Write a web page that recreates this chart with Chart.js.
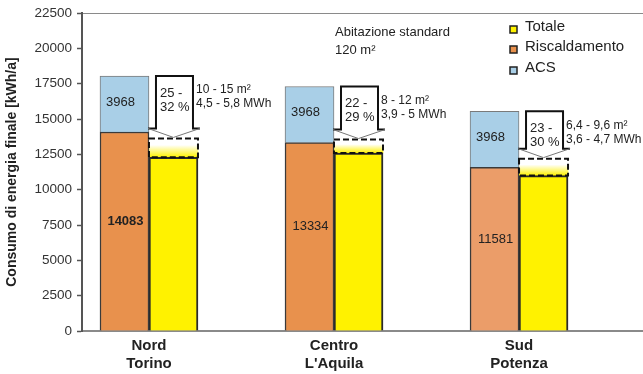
<!DOCTYPE html>
<html>
<head>
<meta charset="utf-8">
<script src="https://cdn.jsdelivr.net/npm/chart.js@4.4.1/dist/chart.umd.min.js"></script>
<style>
  body { margin: 0; background: #fff; }
  #wrap { width: 643px; height: 374px; }
</style>
</head>
<body>
<div id="wrap"><canvas id="consumoChart"></canvas></div>
<script>
// zone climatiche
const zone = [["Nord", "Torino"], ["Centro", "L'Aquila"], ["Sud", "Potenza"]];
// consumi [kWh/a]
const riscaldamento = [14083, 13334, 11581];
const acs = [3968, 3968, 3968];
const totale = [12300, 12600, 11000];          // barra gialla piena
const fasciaRisparmio = [1330, 950, 1200];     // fascia tratteggiata sopra il totale
// testi delle frecce
const risparmioPct = [["25 -", "32 %"], ["22 -", "29 %"], ["23 -", "30 %"]];
const risparmioNote = [
  ["10 - 15 m²", "4,5 - 5,8 MWh"],
  ["8 - 12 m²", "3,9 - 5 MWh"],
  ["6,4 - 9,6 m²", "3,6 - 4,7 MWh"],
];
const yMax = 22500;
const yStep = 2500;

const ORANGE = ["#e8914d", "#e8914d", "#eb9d69"];
const BLUE = "#a9cfe7";
const YELLOW = "#fff200";

Chart.defaults.font.family = "'Liberation Sans', Arial, sans-serif";

const pts = (arr) => arr.map((v, i) => ({ x: i, y: v }));

// bordo tratteggiato, frecce ed etichette
const annotazioni = {
  id: "annotazioni",
  afterDatasetsDraw(chart) {
    const ctx = chart.ctx;
    const mRisc = chart.getDatasetMeta(0).data;
    const mAcs = chart.getDatasetMeta(1).data;
    const mFascia = chart.getDatasetMeta(3).data;
    ctx.save();
    mFascia.forEach((el, i) => {
      const l = el.x - el.width / 2, r = el.x + el.width / 2;
      // fascia tratteggiata
      ctx.setLineDash([6, 3]);
      ctx.lineWidth = 2;
      ctx.strokeStyle = "#111";
      ctx.strokeRect(l, el.y, r - l, el.base - el.y);
      ctx.setLineDash([]);

      // freccia
      const top = mAcs[i].y;
      const bodyL = l + 7, bodyR = r - 5;
      const headL = l - 1, headR = r + 2;
      const tip = el.y - 1, headBase = tip - 9;
      ctx.beginPath();
      ctx.moveTo(bodyL, top);
      ctx.lineTo(bodyR, top);
      ctx.lineTo(bodyR, headBase);
      ctx.lineTo(headR, headBase);
      ctx.lineTo(el.x, tip);
      ctx.lineTo(headL, headBase);
      ctx.lineTo(bodyL, headBase);
      ctx.closePath();
      ctx.fillStyle = "#fff";
      ctx.fill();
      ctx.beginPath();
      ctx.moveTo(headL, headBase);
      ctx.lineTo(bodyL, headBase);
      ctx.lineTo(bodyL, top);
      ctx.lineTo(bodyR, top);
      ctx.lineTo(bodyR, headBase);
      ctx.lineTo(headR, headBase);
      ctx.lineWidth = 2;
      ctx.strokeStyle = "#111";
      ctx.stroke();
      ctx.beginPath();
      ctx.moveTo(headL, headBase);
      ctx.lineTo(el.x, tip);
      ctx.lineTo(headR, headBase);
      ctx.lineWidth = 1;
      ctx.strokeStyle = "#777";
      ctx.stroke();

      ctx.fillStyle = "#222";
      ctx.textBaseline = "middle";
      ctx.textAlign = "left";
      ctx.font = "13px 'Liberation Sans', Arial, sans-serif";
      ctx.fillText(risparmioPct[i][0], bodyL + 4, top + 17);
      ctx.fillText(risparmioPct[i][1], bodyL + 4, top + 31);
      ctx.font = "12px 'Liberation Sans', Arial, sans-serif";
      ctx.fillText(risparmioNote[i][0], bodyR + 3, top + 14);
      ctx.fillText(risparmioNote[i][1], bodyR + 3, top + 28);
    });

    // valori nelle barre
    ctx.textAlign = "center";
    ctx.textBaseline = "middle";
    ctx.fillStyle = "#222";
    mAcs.forEach((el, i) => {
      ctx.font = "13px 'Liberation Sans', Arial, sans-serif";
      ctx.fillText(String(acs[i]), el.x - 4, (el.y + el.base) / 2 - 2);
    });
    mRisc.forEach((el, i) => {
      ctx.font = (i === 0 ? "bold " : "") + "13px 'Liberation Sans', Arial, sans-serif";
      ctx.fillText(String(riscaldamento[i]), el.x + 1, (el.y + el.base) / 2 - 10);
    });
    ctx.restore();
  },
  afterDraw(chart) {
    const ctx = chart.ctx;
    ctx.save();
    ctx.fillStyle = "#222";
    ctx.textBaseline = "middle";
    ctx.textAlign = "left";
    ctx.font = "13px 'Liberation Sans', Arial, sans-serif";
    ctx.fillText("Abitazione standard", 335, 32);
    ctx.fillText("120 m²", 335, 50);

    // legenda
    const voci = [
      { text: chart.data.datasets[2].label, color: YELLOW, y: 27 },
      { text: chart.data.datasets[0].label, color: ORANGE[0], y: 47 },
      { text: chart.data.datasets[1].label, color: BLUE, y: 68 },
    ];
    voci.forEach((v) => {
      ctx.fillStyle = v.color;
      ctx.fillRect(510, v.y - 1, 7, 7);
      ctx.lineWidth = 1.5;
      ctx.strokeStyle = "#222";
      ctx.strokeRect(510, v.y - 1, 7, 7);
      ctx.fillStyle = "#222";
      ctx.font = "15px 'Liberation Sans', Arial, sans-serif";
      ctx.fillText(v.text, 525, v.y);
    });
    ctx.restore();
  },
};

new Chart(document.getElementById("consumoChart"), {
  type: "bar",
  data: {
    datasets: [
      {
        label: "Riscaldamento",
        data: pts(riscaldamento),
        stack: "attuale",
        backgroundColor: ORANGE,
        borderColor: "#3a3a3a",
        borderWidth: 1.5,
      },
      {
        label: "ACS",
        data: pts(acs),
        stack: "attuale",
        backgroundColor: BLUE,
        borderColor: "#7a7a7a",
        borderWidth: 1,
      },
      {
        label: "Totale",
        data: pts(totale),
        stack: "progetto",
        backgroundColor: YELLOW,
        borderColor: "#2a2a2a",
        borderWidth: 2,
      },
      {
        label: "Risparmio",
        data: pts(fasciaRisparmio),
        stack: "progetto",
        borderWidth: 0,
        backgroundColor: (c) => {
          const chart = c.chart;
          if (!chart.chartArea || c.dataIndex === undefined) return "transparent";
          const y = chart.scales.y;
          const lo = y.getPixelForValue(totale[c.dataIndex]);
          const hi = y.getPixelForValue(totale[c.dataIndex] + fasciaRisparmio[c.dataIndex]);
          const g = chart.ctx.createLinearGradient(0, hi, 0, lo);
          g.addColorStop(0, "#ffffff");
          g.addColorStop(0.35, "#ffffff");
          g.addColorStop(1, YELLOW);
          return g;
        },
      },
    ],
  },
  options: {
    responsive: true,
    maintainAspectRatio: false,
    animation: false,
    layout: { padding: { top: 13, right: 0, bottom: 0, left: 0 } },
    datasets: { bar: { barThickness: 49 } },
    scales: {
      x: {
        type: "linear",
        offset: false,
        min: -0.362,
        max: 2.67,
        afterBuildTicks: (axis) => {
          axis.ticks = zone.map((z, i) => ({ value: i }));
        },
        afterFit: (s) => {
          s.height = 43;
        },
        ticks: {
          callback: (v) => zone[v],
          autoSkip: false,
          maxRotation: 0,
          padding: 6,
          color: "#222",
          font: { size: 15, weight: "bold" },
        },
        grid: { display: true, drawOnChartArea: false, drawTicks: false },
        border: { color: "#8a8a8a", width: 2 },
      },
      y: {
        min: 0,
        max: yMax,
        afterFit: (s) => {
          s.width = 82;
        },
        ticks: {
          stepSize: yStep,
          padding: 5,
          color: "#333",
          font: { size: 13.5 },
          callback: (v) => String(v),
        },
        grid: {
          drawOnChartArea: true,
          color: (c) => (c.tick && c.tick.value === yMax ? "#8a8a8a" : "rgba(0,0,0,0)"),
          tickLength: 5,
          tickColor: "#555",
          tickWidth: 1.5,
        },
        border: { color: "#555", width: 2 },
        title: {
          display: true,
          text: "Consumo di energia finale [kWh/a]",
          color: "#222",
          font: { size: 14, weight: "bold" },
          padding: { top: 4, bottom: 0 },
        },
      },
    },
    plugins: {
      legend: { display: false },
      tooltip: { enabled: false },
    },
  },
  plugins: [annotazioni],
});
</script>
</body>
</html>
